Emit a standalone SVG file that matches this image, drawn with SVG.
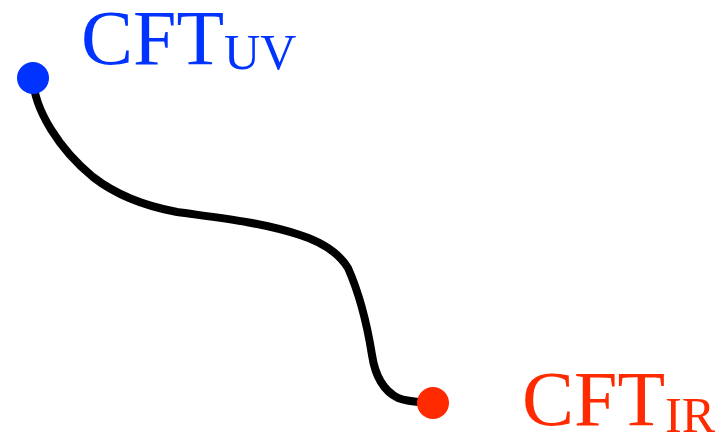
<svg xmlns="http://www.w3.org/2000/svg" width="728" height="435" viewBox="0 0 728 435">
<style>
.lbl{font-family:"Liberation Serif","Times New Roman",serif}
.big{font-size:78px}
.sub{font-size:50px}
</style>
<rect width="728" height="435" fill="#fff"/>
<g id="connectors">
<path d="M33,78 C34,110 60,150 93,177 C120,198 150,207 177,212 C220,218 260,222 300,235 C325,243 340,255 348,268 C360,295 368,330 372,355 C375,375 382,390 398,398 C408,402 420,402 432,403" fill="none" stroke="#000" stroke-width="8" stroke-linecap="round" stroke-linejoin="round"/>
</g>
<g id="uv">
<circle cx="33" cy="78" r="16" fill="#0033ff"/>
<text class="lbl" x="81" y="64" fill="#0033ff"><tspan class="big">CFT</tspan><tspan class="sub" dy="5">UV</tspan></text>
</g>
<g id="ir">
<circle cx="433" cy="403" r="16" fill="#ff2a00"/>
<text class="lbl" x="522" y="425" fill="#ff2a00"><tspan class="big">CFT</tspan><tspan class="sub" dy="7">IR</tspan></text>
</g>
</svg>
